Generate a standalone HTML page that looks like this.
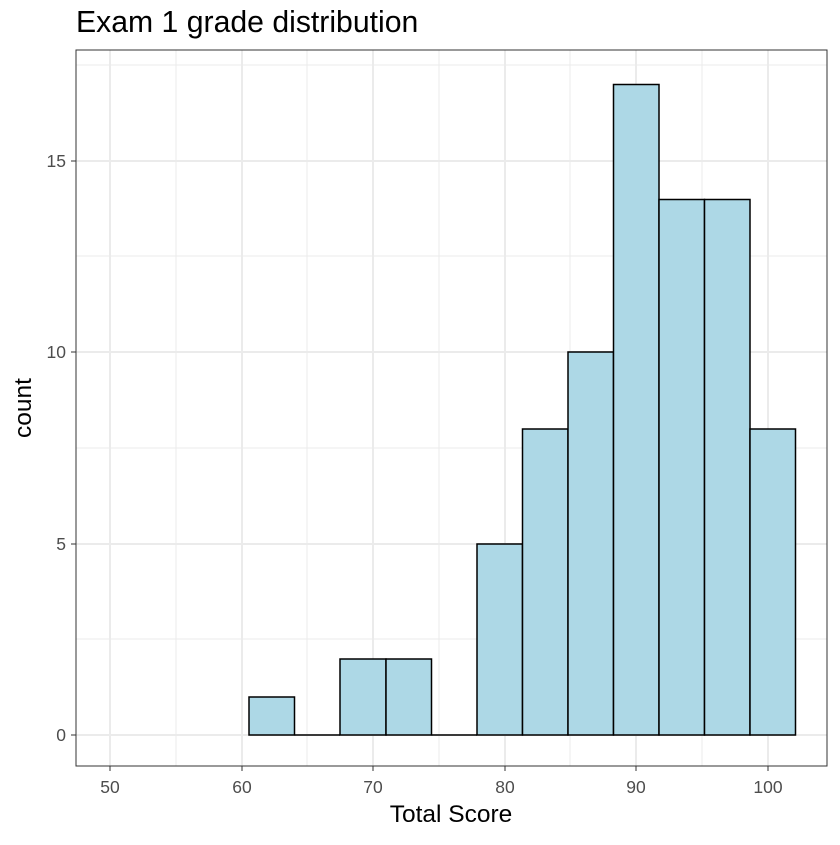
<!DOCTYPE html>
<html><head><style>body{margin:0;background:#fff}</style></head><body>
<svg width="840" height="840" xmlns="http://www.w3.org/2000/svg" font-family="Liberation Sans, sans-serif">
<rect width="840" height="840" fill="#fff"/>
<g stroke="#ebebeb" stroke-width="1">
<line x1="76" x2="827" y1="639" y2="639"/><line x1="76" x2="827" y1="448" y2="448"/><line x1="76" x2="827" y1="256" y2="256"/><line x1="76" x2="827" y1="65" y2="65"/>
<line y1="50" y2="766" x1="176" x2="176"/><line y1="50" y2="766" x1="307" x2="307"/><line y1="50" y2="766" x1="439" x2="439"/><line y1="50" y2="766" x1="570" x2="570"/><line y1="50" y2="766" x1="702" x2="702"/>
</g>
<g stroke="#ebebeb" stroke-width="2">
<line x1="76" x2="827" y1="735" y2="735"/><line x1="76" x2="827" y1="544" y2="544"/><line x1="76" x2="827" y1="352" y2="352"/><line x1="76" x2="827" y1="161" y2="161"/>
<line y1="50" y2="766" x1="110" x2="110"/><line y1="50" y2="766" x1="242" x2="242"/><line y1="50" y2="766" x1="373" x2="373"/><line y1="50" y2="766" x1="505" x2="505"/><line y1="50" y2="766" x1="636" x2="636"/><line y1="50" y2="766" x1="768" x2="768"/>
</g>
<g fill="#add8e6" stroke="#000" stroke-width="1.5">
<rect x="249" y="697" width="45.5" height="38"/>
<line x1="294.5" x2="340" y1="735" y2="735"/>
<rect x="340" y="659" width="46" height="76"/>
<rect x="386" y="659" width="45.5" height="76"/>
<line x1="431.5" x2="477" y1="735" y2="735"/>
<rect x="477" y="544" width="45.5" height="191"/>
<rect x="522.5" y="429" width="45.5" height="306"/>
<rect x="568" y="352" width="45.5" height="383"/>
<rect x="613.5" y="84.5" width="45.5" height="650.5"/>
<rect x="659" y="199.5" width="45.5" height="535.5"/>
<rect x="704.5" y="199.5" width="45.5" height="535.5"/>
<rect x="750" y="429" width="45.5" height="306"/>
</g>
<rect x="76" y="50" width="751" height="716" fill="none" stroke="#333" stroke-width="1"/>
<g stroke="#333" stroke-width="1">
<line x1="71" x2="76" y1="735" y2="735"/><line x1="71" x2="76" y1="544" y2="544"/><line x1="71" x2="76" y1="352" y2="352"/><line x1="71" x2="76" y1="161" y2="161"/>
<line y1="766" y2="771" x1="110" x2="110"/><line y1="766" y2="771" x1="242" x2="242"/><line y1="766" y2="771" x1="373" x2="373"/><line y1="766" y2="771" x1="505" x2="505"/><line y1="766" y2="771" x1="636" x2="636"/><line y1="766" y2="771" x1="768" x2="768"/>
</g>
<g fill="#4d4d4d" font-size="17.5" text-anchor="end">
<text x="66" y="741">0</text><text x="66" y="550">5</text><text x="66" y="358">10</text><text x="66" y="167">15</text>
</g>
<g fill="#4d4d4d" font-size="17.5" text-anchor="middle">
<text x="110" y="793">50</text><text x="242" y="793">60</text><text x="373" y="793">70</text><text x="505" y="793">80</text><text x="636" y="793">90</text><text x="768" y="793">100</text>
</g>
<text x="451" y="822" font-size="24.5" text-anchor="middle">Total Score</text>
<text transform="translate(31,408) rotate(-90)" font-size="24.5" text-anchor="middle">count</text>
<text x="76" y="32" font-size="30.2">Exam 1 grade distribution</text>
</svg>
</body></html>
